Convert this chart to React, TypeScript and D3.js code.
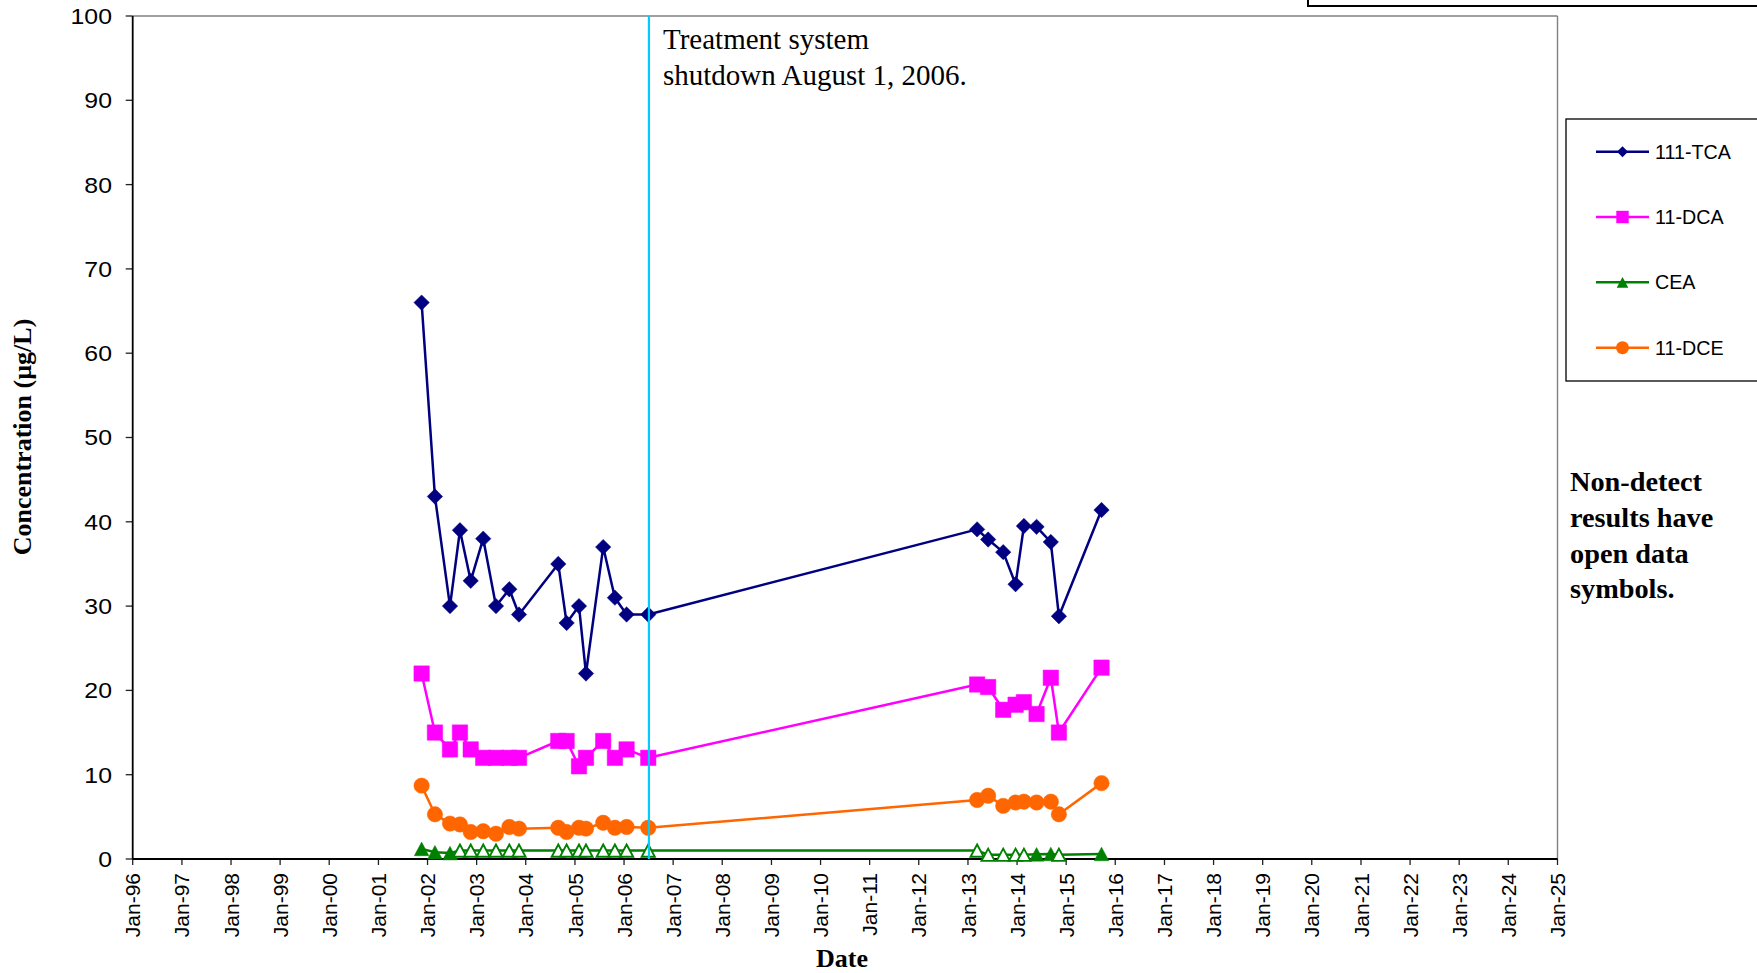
import React from "react";
import * as d3 from "d3";

// ---------- data ----------
const SAMPLE_DATES = [
  "2001-11-18", "2002-02-25", "2002-06-17", "2002-08-30", "2002-11-18",
  "2003-02-19", "2003-05-25", "2003-09-01", "2003-11-12", "2004-08-30",
  "2004-10-31", "2005-01-31", "2005-03-24", "2005-07-30", "2005-10-25",
  "2006-01-20", "2006-06-30", "2013-03-10", "2013-05-31", "2013-09-20",
  "2013-12-21", "2014-02-21", "2014-05-26", "2014-09-09", "2014-11-08",
  "2015-09-21",
];
const TCA_111 = [66, 43, 30, 39, 33, 38, 30, 32, 29, 35, 28, 30, 22, 37, 31, 29, 29, 39.1, 37.9, 36.4, 32.6, 39.5, 39.4, 37.6, 28.8, 41.4];
const DCA_11 = [22, 15, 13, 15, 13, 12, 12, 12, 12, 14, 14, 11, 12, 14, 12, 13, 12, 20.7, 20.4, 17.7, 18.3, 18.6, 17.2, 21.5, 15.0, 22.7];
const CEA = [1.2, 0.8, 0.7, 1, 1, 1, 1, 1, 1, 1, 1, 1, 1, 1, 1, 1, 1, 1.0, 0.5, 0.5, 0.5, 0.5, 0.55, 0.6, 0.5, 0.6];
const CEA_DETECTED = [1, 1, 1, 0, 0, 0, 0, 0, 0, 0, 0, 0, 0, 0, 0, 0, 0, 0, 0, 0, 0, 0, 1, 1, 0, 1];
const DCE_11 = [8.7, 5.3, 4.2, 4.1, 3.2, 3.3, 3.0, 3.8, 3.6, 3.7, 3.2, 3.7, 3.6, 4.3, 3.7, 3.8, 3.7, 7.0, 7.5, 6.3, 6.7, 6.8, 6.7, 6.8, 5.3, 9.0];

const SERIES_NAMES = ["111-TCA", "11-DCA", "CEA", "11-DCE"];
const Y_TICKS = [0, 10, 20, 30, 40, 50, 60, 70, 80, 90, 100];
const X_START = "1996-01-01";
const X_END = "2025-01-01";
const SHUTDOWN_LINE_DATE = "2006-07-05";
const ANNOTATION_LINES = ["Treatment system", "shutdown August 1, 2006."];
const NOTE_LINES = ["Non-detect", "results have", "open data", "symbols."];
const Y_TITLE = "Concentration (\u00b5g/L)";
const X_TITLE = "Date";

// ---------- layout ----------
const W = 1757;
const H = 973;
const PX0 = 132.7;
const PX1 = 1557.5;
const PY0 = 859;
const PY1 = 16;

const COLORS = ["#000080", "#FF00FF", "#008000", "#FF6600"];
const SANS = "'Liberation Sans', Arial, sans-serif";
const SERIF = "'Liberation Serif', 'Times New Roman', serif";

type Shape = "diamond" | "square" | "triangle" | "circle";
const SHAPES: Shape[] = ["diamond", "square", "triangle", "circle"];

function markerPath(shape: Shape, s: number): string {
  if (shape === "diamond") return `M0,${-s}L${s},0L0,${s}L${-s},0Z`;
  if (shape === "square") return `M${-s},${-s}H${s}V${s}H${-s}Z`;
  if (shape === "triangle") {
    const hh = s * 0.93;
    return `M0,${-hh}L${s},${hh}L${-s},${hh}Z`;
  }
  const p = d3.path();
  p.arc(0, 0, s, 0, Math.PI * 2);
  p.closePath();
  return p.toString();
}

export default function App() {
  const parse = d3.timeParse("%Y-%m-%d");
  const dates = SAMPLE_DATES.map((d) => parse(d) as Date);
  const x = d3.scaleTime().domain([parse(X_START) as Date, parse(X_END) as Date]).range([PX0, PX1]);
  const y = d3.scaleLinear().domain([0, 100]).range([PY0, PY1]);
  const xTicks = d3.timeYear.range(parse(X_START) as Date, d3.timeDay.offset(parse(X_END) as Date, 1));
  const fmt = d3.timeFormat("Jan-%y");

  const allSeries = [TCA_111, DCA_11, CEA, DCE_11];
  const line = d3
    .line<number>()
    .x((_, i) => x(dates[i]))
    .y((v) => y(v));

  const shutX = x(parse(SHUTDOWN_LINE_DATE) as Date);

  const legendRows = [151.7, 217, 282.3, 347.7];

  return (
    <svg
      width={W}
      height={H}
      viewBox={`0 0 ${W} ${H}`}
      style={{ position: "absolute", left: 0, top: 0, background: "#fff" }}
    >
      <rect x={0} y={0} width={W} height={H} fill="#fff" />

      {/* top-right cropped box */}
      <rect x={1308} y={-20} width={520} height={26} fill="#fff" stroke="#000" strokeWidth={2} />

      {/* plot frame */}
      <line x1={PX0} y1={PY1} x2={PX1} y2={PY1} stroke="#808080" strokeWidth={1.4} />
      <line x1={PX1} y1={PY1} x2={PX1} y2={PY0} stroke="#808080" strokeWidth={1.4} />

      {/* y ticks */}
      {Y_TICKS.map((t) => (
        <g key={`yt${t}`}>
          <line x1={PX0 - 7} x2={PX0} y1={y(t)} y2={y(t)} stroke="#222" strokeWidth={1.3} />
          <text
            transform={`translate(112,${y(t)}) scale(1.13,1)`}
            textAnchor="end"
            dy="0.36em"
            fontFamily={SANS}
            fontSize={22}
            fill="#000"
          >
            {t}
          </text>
        </g>
      ))}

      {/* x ticks */}
      {xTicks.map((t, i) => (
        <g key={`xt${i}`}>
          <line x1={x(t)} x2={x(t)} y1={PY0} y2={PY0 + 6} stroke="#222" strokeWidth={1.3} />
          <text
            transform={`translate(${x(t)},873) rotate(-90)`}
            textAnchor="end"
            dy="0.36em"
            fontFamily={SANS}
            fontSize={21}
            fill="#000"
          >
            {fmt(t)}
          </text>
        </g>
      ))}

      {/* axes */}
      <line x1={PX0} y1={PY1} x2={PX0} y2={PY0} stroke="#000" strokeWidth={1.8} />
      <line x1={PX0} y1={PY0} x2={PX1} y2={PY0} stroke="#000" strokeWidth={1.8} />

      {/* series lines */}
      {allSeries.map((vals, si) => (
        <path key={`l${si}`} d={line(vals) || ""} fill="none" stroke={COLORS[si]} strokeWidth={2.5} strokeLinejoin="round" />
      ))}

      {/* markers */}
      {allSeries.map((vals, si) => (
        <g key={`m${si}`}>
          {vals.map((v, i) => {
            const open = si === 2 && !CEA_DETECTED[i];
            const half = si === 2 ? 7.3 : 7.7;
            return (
              <path
                key={i}
                d={markerPath(SHAPES[si], open ? 6.6 : half)}
                transform={`translate(${x(dates[i])},${y(v)})`}
                fill={open ? "#fff" : COLORS[si]}
                stroke={COLORS[si]}
                strokeWidth={open ? 1.9 : 0.5}
              />
            );
          })}
        </g>
      ))}

      {/* shutdown line */}
      <line x1={shutX} x2={shutX} y1={PY1} y2={PY0} stroke="#00CCFF" strokeWidth={2.2} />

      {/* annotation */}
      {ANNOTATION_LINES.map((s, i) => (
        <text key={`a${i}`} x={663} y={48.5 + i * 36} fontFamily={SERIF} fontSize={29} fill="#000">
          {s}
        </text>
      ))}

      {/* legend */}
      <rect x={1566} y={119} width={230} height={262} fill="#fff" stroke="#000" strokeWidth={1.3} />
      {SERIES_NAMES.map((name, si) => {
        const cy = legendRows[si];
        const sizes = [5.5, 6.2, 5.8, 6.5];
        return (
          <g key={`lg${si}`}>
            <line x1={1596} x2={1649} y1={cy} y2={cy} stroke={COLORS[si]} strokeWidth={2.4} />
            <path d={markerPath(SHAPES[si], sizes[si])} transform={`translate(1622.5,${cy})`} fill={COLORS[si]} />
            <text x={1655} y={cy} dy="0.36em" fontFamily={SANS} fontSize={19.7} fill="#000">
              {name}
            </text>
          </g>
        );
      })}

      {/* note */}
      {NOTE_LINES.map((s, i) => (
        <text key={`n${i}`} x={1570} y={491 + i * 35.8} fontFamily={SERIF} fontWeight="bold" fontSize={28.3} fill="#000">
          {s}
        </text>
      ))}

      {/* axis titles */}
      <text
        transform={`translate(31,437) rotate(-90)`}
        textAnchor="middle"
        fontFamily={SERIF}
        fontWeight="bold"
        fontSize={26}
        fill="#000"
      >
        {Y_TITLE}
      </text>
      <text x={842} y={967} textAnchor="middle" fontFamily={SERIF} fontWeight="bold" fontSize={26} fill="#000">
        {X_TITLE}
      </text>
    </svg>
  );
}
